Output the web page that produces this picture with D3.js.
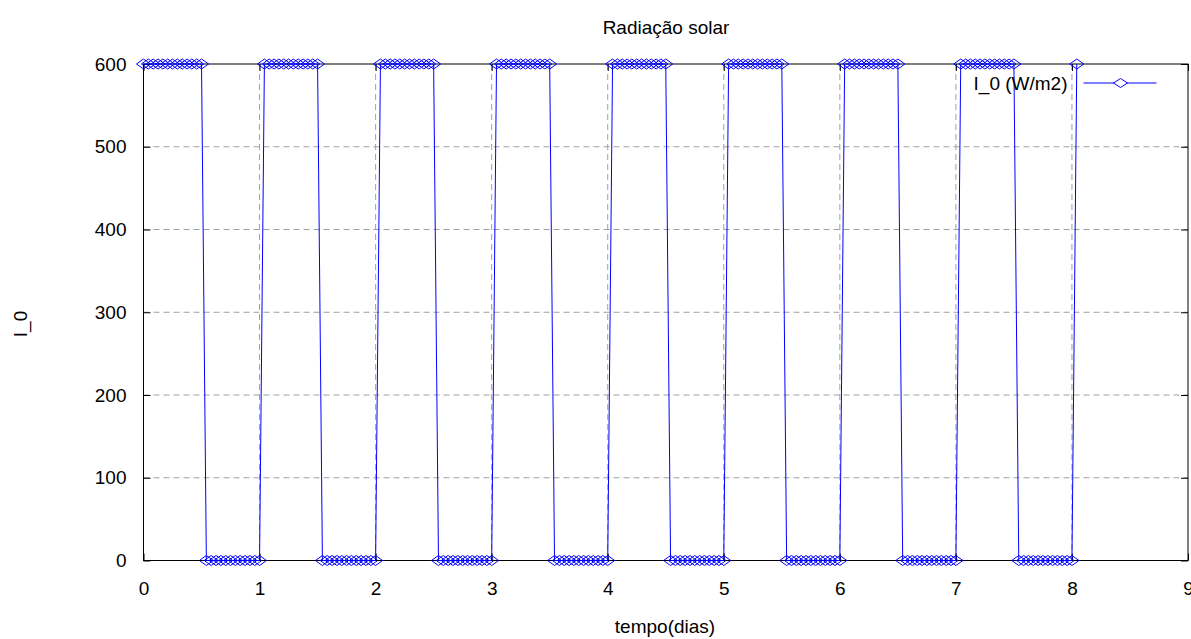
<!DOCTYPE html>
<html>
<head>
<meta charset="utf-8">
<title>Radiação solar</title>
<script src="https://d3js.org/d3.v7.min.js"></script>
<style>
    body { margin: 0; background: #fff; }
    text { font-family: "Liberation Sans", Arial, sans-serif; font-size: 19px; fill: #000; }
</style>
</head>
<body>
<div id="chart"></div>
<script>
// sampling step of the series (one marker per hour, in days)
const stepDays = 1 / 24;

// I_0 (W/m2), one value per hourly sample, starting at t = 0
const day0 = [600,600,600,600,600,600,600,600,600,600,600,600,600, 0,0,0,0,0,0,0,0,0,0,0];
const day1 = [0, 600,600,600,600,600,600,600,600,600,600,600,600, 0,0,0,0,0,0,0,0,0,0,0];
const day2 = [0, 600,600,600,600,600,600,600,600,600,600,600,600, 0,0,0,0,0,0,0,0,0,0,0];
const day3 = [0, 600,600,600,600,600,600,600,600,600,600,600,600, 0,0,0,0,0,0,0,0,0,0,0];
const day4 = [0, 600,600,600,600,600,600,600,600,600,600,600,600, 0,0,0,0,0,0,0,0,0,0,0];
const day5 = [0, 600,600,600,600,600,600,600,600,600,600,600,600, 0,0,0,0,0,0,0,0,0,0,0];
const day6 = [0, 600,600,600,600,600,600,600,600,600,600,600,600, 0,0,0,0,0,0,0,0,0,0,0];
const day7 = [0, 600,600,600,600,600,600,600,600,600,600,600,600, 0,0,0,0,0,0,0,0,0,0,0];
const day8 = [0, 600];

const xTicks = [0, 1, 2, 3, 4, 5, 6, 7, 8, 9];
const yTicks = [0, 100, 200, 300, 400, 500, 600];

const seriesName = "I_0 (W/m2)";
const title = "Radiação solar";
const xLabel = "tempo(dias)";
const yLabel = "I_0";

const values = [].concat(day0, day1, day2, day3, day4, day5, day6, day7, day8);
const data = values.map((v, i) => ({t: i * stepDays, v: v}));

const W = 1191, H = 639;
const margin = {top: 64, right: 3, bottom: 78.5, left: 143.5};
const width = W - margin.left - margin.right,
      height = H - margin.top - margin.bottom;

const svg = d3.select("#chart").append("svg")
    .attr("width", W)
    .attr("height", H);

const g = svg.append("g")
    .attr("transform", `translate(${margin.left},${margin.top})`);

const x = d3.scaleLinear().domain([0, 9]).range([0, width]);
const y = d3.scaleLinear().domain([0, 600]).range([height, 0]);

// grid
g.append("g").selectAll("line")
    .data(xTicks.slice(1, -1))
    .join("line")
    .attr("x1", d => x(d)).attr("x2", d => x(d))
    .attr("y1", 0).attr("y2", height)
    .attr("stroke", "#a0a0a0")
    .attr("stroke-dasharray", "6,4");

g.append("g").selectAll("line")
    .data(yTicks.slice(1, -1))
    .join("line")
    .attr("x1", 0).attr("x2", width)
    .attr("y1", d => y(d)).attr("y2", d => y(d))
    .attr("stroke", "#a0a0a0")
    .attr("stroke-dasharray", "6,4");

// axes, gnuplot style: ticks pointing inwards, mirrored
const tick = 7;
g.append("g")
    .attr("transform", `translate(0,${height})`)
    .call(d3.axisBottom(x).tickValues(xTicks).tickSize(-tick).tickPadding(tick + 14).tickFormat(d3.format("d")))
    .call(a => a.select(".domain").remove())
    .call(a => a.selectAll("text").style("font-size", "19px"));
g.append("g")
    .call(d3.axisTop(x).tickValues(xTicks).tickSize(-tick).tickFormat(""))
    .call(a => a.select(".domain").remove());
g.append("g")
    .call(d3.axisLeft(y).tickValues(yTicks).tickSize(-tick).tickPadding(tick + 10))
    .call(a => a.select(".domain").remove())
    .call(a => a.selectAll("text").style("font-size", "19px"));
g.append("g")
    .attr("transform", `translate(${width},0)`)
    .call(d3.axisRight(y).tickValues(yTicks).tickSize(-tick).tickFormat(""))
    .call(a => a.select(".domain").remove());

g.selectAll(".tick line").attr("stroke", "#000");

g.append("rect")
    .attr("width", width).attr("height", height)
    .attr("fill", "none")
    .attr("stroke", "#000");

// series
const blue = "#0000ff";
const line = d3.line().x(d => x(d.t)).y(d => y(d.v));
g.append("path")
    .datum(data)
    .attr("fill", "none")
    .attr("stroke", blue)
    .attr("stroke-width", 1)
    .attr("d", line);

const diamond = "M-7,0L0,-5L7,0L0,5Z";
g.append("g").selectAll("path")
    .data(data)
    .join("path")
    .attr("transform", d => `translate(${x(d.t)},${y(d.v)})`)
    .attr("d", diamond)
    .attr("fill", "none")
    .attr("stroke", blue)
    .attr("stroke-width", 1);

// legend
const lg = g.append("g").attr("transform", "translate(940,19)");
lg.append("text")
    .attr("x", -16).attr("dy", "0.35em")
    .attr("text-anchor", "end")
    .text(seriesName);
lg.append("line")
    .attr("x1", 0).attr("x2", 73)
    .attr("stroke", blue);
lg.append("path")
    .attr("transform", "translate(37,0)")
    .attr("d", "M-7,0L0,-4.5L7,0L0,4.5Z")
    .attr("fill", "#fff")
    .attr("stroke", blue);

// titles
svg.append("text")
    .attr("x", 666).attr("y", 34)
    .attr("text-anchor", "middle")
    .text(title);
svg.append("text")
    .attr("x", 665).attr("y", 633)
    .attr("text-anchor", "middle")
    .text(xLabel);
svg.append("text")
    .attr("transform", "translate(27,324) rotate(-90)")
    .attr("text-anchor", "middle")
    .text(yLabel);
</script>
</body>
</html>
